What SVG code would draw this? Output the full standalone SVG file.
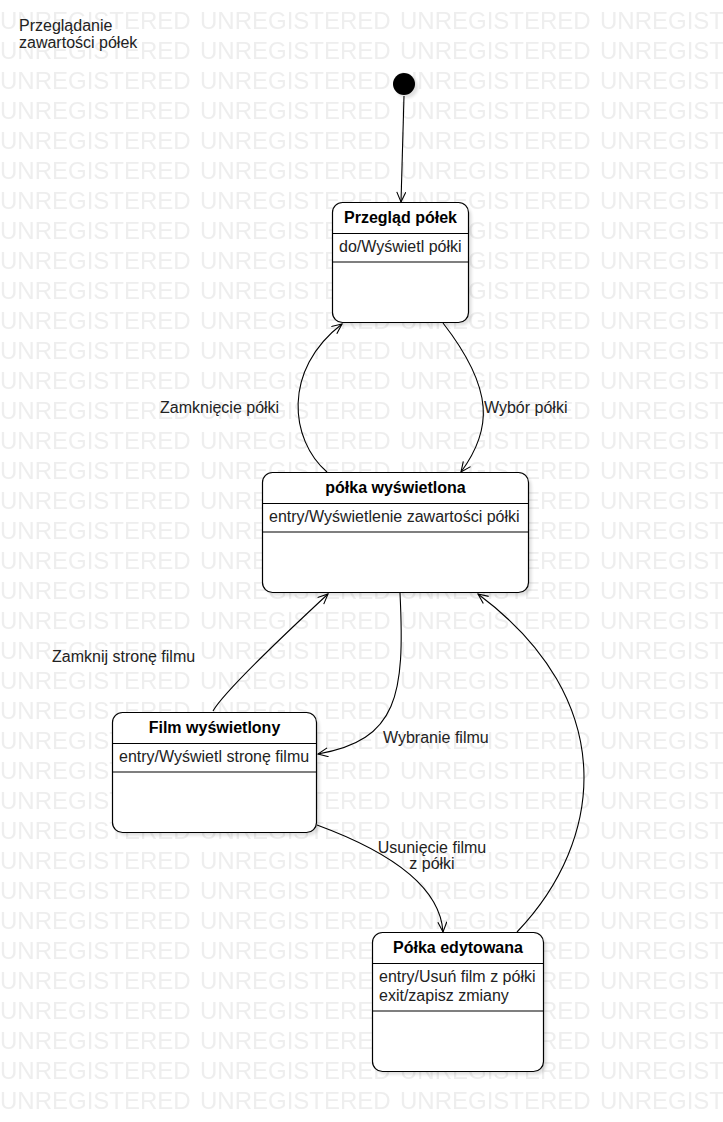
<svg xmlns="http://www.w3.org/2000/svg" width="723" height="1122" viewBox="0 0 723 1122">
<style>
.wm{font-family:"Liberation Sans",Arial,sans-serif;font-size:24px;fill:#eeeeee}
.lbl{font-family:"Liberation Sans",Arial,sans-serif;font-size:16px;fill:#222}
.title{font-family:"Liberation Sans",Arial,sans-serif;font-size:16px;font-weight:bold;fill:#000;text-anchor:middle}
.body{font-family:"Liberation Sans",Arial,sans-serif;font-size:16px;fill:#222}
.box{fill:#fff;stroke:#000;stroke-width:1.2}
.sep{stroke:#000;stroke-width:1.2}
.shadow{fill:#000;opacity:0.12;filter:url(#blur)}
.edge{fill:none;stroke:#000;stroke-width:1.1;marker-end:url(#arr)}
</style>
<defs>
<pattern id="wmp" patternUnits="userSpaceOnUse" x="0" y="0" width="200" height="30">
<text class="wm" x="0" y="29">UNREGISTERED</text>
</pattern>
<filter id="blur" x="-10%" y="-10%" width="120%" height="120%"><feGaussianBlur stdDeviation="1.5"/></filter>
<marker id="arr" markerUnits="userSpaceOnUse" markerWidth="14" markerHeight="12" refX="11" refY="5" orient="auto">
<path d="M1,0.5 L11,5 L1,9.5" fill="none" stroke="#000" stroke-width="1.1"/>
</marker>
</defs>
<rect x="0" y="0" width="723" height="1122" fill="#fff"/>
<rect x="0" y="0" width="723" height="1122" fill="url(#wmp)"/>

<text class="lbl" x="19" y="31">Przeglądanie</text>
<text class="lbl" x="19" y="48">zawartości półek</text>

<g id="initial">
<circle cx="407" cy="87" r="11" class="shadow"/>
<circle cx="404" cy="84" r="11" fill="#000"/>
</g>

<g id="przeglad-polek">
<rect class="shadow" x="335.5" y="205.5" width="136" height="120" rx="10"/>
<rect class="box" x="332.5" y="202.5" width="136" height="120" rx="10"/>
<line class="sep" x1="332.5" y1="233.5" x2="468.5" y2="233.5"/>
<line class="sep" x1="332.5" y1="262" x2="468.5" y2="262"/>
<text class="title" x="400.5" y="223">Przegląd półek</text>
<text class="body" x="339" y="252">do/Wyświetl półki</text>
</g>

<g id="polka-wyswietlona">
<rect class="shadow" x="265.5" y="475.5" width="266" height="120" rx="10"/>
<rect class="box" x="262.5" y="472.5" width="266" height="120" rx="10"/>
<line class="sep" x1="262.5" y1="503.5" x2="528.5" y2="503.5"/>
<line class="sep" x1="262.5" y1="532" x2="528.5" y2="532"/>
<text class="title" x="395.5" y="493">półka wyświetlona</text>
<text class="body" x="269" y="522">entry/Wyświetlenie zawartości półki</text>
</g>

<g id="film-wyswietlony">
<rect class="shadow" x="115.5" y="715.5" width="204" height="120" rx="10"/>
<rect class="box" x="112.5" y="712.5" width="204" height="120" rx="10"/>
<line class="sep" x1="112.5" y1="743.5" x2="316.5" y2="743.5"/>
<line class="sep" x1="112.5" y1="772" x2="316.5" y2="772"/>
<text class="title" x="214.5" y="733">Film wyświetlony</text>
<text class="body" x="119" y="762">entry/Wyświetl stronę filmu</text>
</g>

<g id="polka-edytowana">
<rect class="shadow" x="375.5" y="935.5" width="171" height="139" rx="10"/>
<rect class="box" x="372.5" y="932.5" width="171" height="139" rx="10"/>
<line class="sep" x1="372.5" y1="963.5" x2="543.5" y2="963.5"/>
<line class="sep" x1="372.5" y1="1011" x2="543.5" y2="1011"/>
<text class="title" x="458" y="953">Półka edytowana</text>
<text class="body" x="379" y="982">entry/Usuń film z półki</text>
<text class="body" x="379" y="1001">exit/zapisz zmiany</text>
</g>

<g id="connectors">
<path class="edge" d="M404,96 L401,202"/>
<path class="edge" d="M327,472 C290,440 282,370 342,324"/>
<path class="edge" d="M443,323 C495,390 492,430 461,472"/>
<path class="edge" d="M213,711 C225,690 300,620 328,594"/>
<path class="edge" d="M400,593 C405,695 398,740 318,754"/>
<path class="edge" d="M317,825 C385,850 440,885 443,932"/>
<path class="edge" d="M517,932 C605,840 620,700 478,594"/>
<text class="lbl" x="160" y="413">Zamknięcie półki</text>
<text class="lbl" x="484" y="413">Wybór półki</text>
<text class="lbl" x="52" y="662">Zamknij stronę filmu</text>
<text class="lbl" x="383" y="743">Wybranie filmu</text>
<text class="lbl" x="432" y="853" text-anchor="middle">Usunięcie filmu</text>
<text class="lbl" x="432" y="869" text-anchor="middle">z półki</text>
</g>
</svg>
